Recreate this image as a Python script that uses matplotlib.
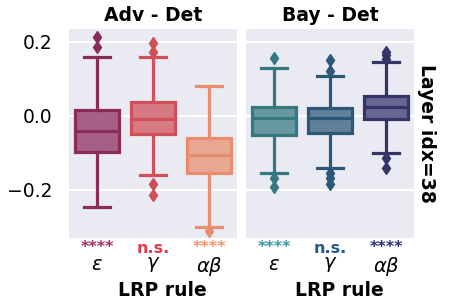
import matplotlib
matplotlib.use("Agg")
import matplotlib.pyplot as plt
import matplotlib.transforms as mtransforms
from matplotlib.colors import to_rgb

# ---- data ----
rules = [r"$\varepsilon$", r"$\gamma$", r"$\alpha\beta$"]
panels = ["Adv - Det", "Bay - Det"]
row_label = "Layer idx=38"

adv_q1 = [-0.097, -0.050, -0.155]
adv_med = [-0.041, -0.007, -0.107]
adv_q3 = [0.016, 0.038, -0.059]
adv_lo = [-0.246, -0.159, -0.301]
adv_hi = [0.160, 0.159, 0.080]
adv_fliers = [[0.214, 0.187], [0.196, 0.174, -0.184, -0.214], [-0.311]]
adv_sig = ["****", "n.s.", "****"]

bay_q1 = [-0.051, -0.045, -0.008]
bay_med = [-0.006, -0.006, 0.023]
bay_q3 = [0.023, 0.021, 0.054]
bay_lo = [-0.155, -0.141, -0.101]
bay_hi = [0.129, 0.108, 0.145]
bay_fliers = [[0.156, -0.168, -0.193], [0.151, 0.122, -0.155, -0.168, -0.184],
              [0.174, 0.165, 0.155, -0.114, -0.141]]
bay_sig = ["****", "n.s.", "****"]

# ---- style ----
bg = "#eaeaf2"
edge_colors = [["#8c2a5c", "#d04f58", "#e88d6e"], ["#35787f", "#2c5776", "#35336a"]]
sig_colors = [["#a8306a", "#e8364a", "#f6946a"], ["#3a9aa0", "#1f5a8a", "#30307a"]]

def blend(c, a=0.72):
    r = to_rgb(c); b = to_rgb(bg)
    return tuple(a * x + (1 - a) * y for x, y in zip(r, b))

plt.rcParams["font.family"] = ["DejaVu Sans"]
fig = plt.figure(figsize=(4.5, 3), dpi=100)
ax1 = fig.add_axes([0.1533, 0.2067, 0.3733, 0.6967])
ax2 = fig.add_axes([0.5467, 0.2067, 0.3733, 0.6967], sharey=ax1)

data = [
    (adv_q1, adv_med, adv_q3, adv_lo, adv_hi, adv_fliers, adv_sig),
    (bay_q1, bay_med, bay_q3, bay_lo, bay_hi, bay_fliers, bay_sig),
]

for p, (ax, d) in enumerate(zip([ax1, ax2], data)):
    q1, med, q3, lo, hi, fl, sig = d
    ax.set_facecolor(bg)
    for s in ax.spines.values():
        s.set_visible(False)
    ax.set_axisbelow(True)
    ax.yaxis.grid(True, color="white", linewidth=1.5)
    ax.xaxis.grid(False)
    for i in range(3):
        st = [dict(q1=q1[i], med=med[i], q3=q3[i], whislo=lo[i], whishi=hi[i],
                   fliers=fl[i])]
        ec = edge_colors[p][i]
        ax.bxp(st, positions=[i], widths=0.8, patch_artist=True, showfliers=True,
               boxprops=dict(facecolor=blend(ec), edgecolor=ec, linewidth=2.3),
               medianprops=dict(color=ec, linewidth=2.3),
               whiskerprops=dict(color=ec, linewidth=2.3),
               capprops=dict(color=ec, linewidth=2.3),
               capwidths=0.45,
               flierprops=dict(marker="d", markerfacecolor=ec, markeredgecolor=ec,
                               markersize=6))
    ax.set_xlim(-0.5, 2.5)
    ax.set_xticks(range(3))
    ax.set_xticklabels(rules, fontsize=14)
    ax.tick_params(axis="x", length=0, pad=12)
    ax.tick_params(axis="y", length=0, labelsize=13.5, pad=12)
    ax.set_xlabel("LRP rule", fontsize=13.5, fontweight="bold")
    ax.xaxis.set_label_coords(0.555, -0.205)
    ax.set_title(panels[p], fontsize=13.5, fontweight="bold", pad=6)
    trans = mtransforms.blended_transform_factory(ax.transData, ax.transAxes)
    for i in range(3):
        if sig[i] == "n.s.":
            ax.text(i, -0.015, sig[i], transform=trans, ha="center", va="top",
                    fontsize=11.5, fontweight="bold", color=sig_colors[p][i])
        else:
            ax.text(i, -0.012, sig[i], transform=trans, ha="center", va="top",
                    fontsize=11.5, fontweight="bold", color=sig_colors[p][i])

ax1.set_ylim(-0.33, 0.235)
ax1.set_yticks([-0.2, 0.0, 0.2])
ax1.set_yticklabels(["\u22120.2", "0.0", "0.2"])
plt.setp(ax2.get_yticklabels(), visible=False)
ax2.yaxis.set_label_position("right")
ax2.set_ylabel(row_label, rotation=-90, fontsize=13.5, fontweight="bold", labelpad=16)

fig.savefig("out.png", dpi=100)
